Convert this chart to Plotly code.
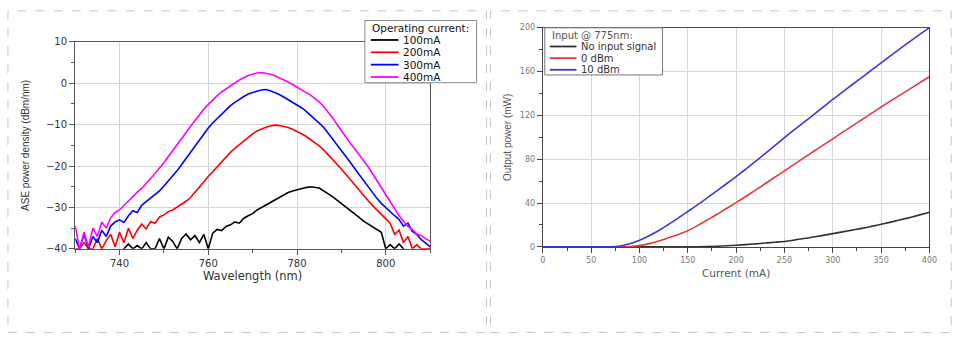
import plotly.graph_objects as go

# ---------------- data: left panel (ASE spectra) ----------------
wavelength = list(range(730, 811))

ase_100mA = [
    -41, -41, -41, -41, -41, -41, -41, -41, -41, -41,
    -41, -40, -38.8, -40, -39.2, -40, -38.5, -40, -40, -37.5,
    -40, -37.2, -38.2, -40, -37.5, -36.4, -37.8, -36.8, -38.5, -36.5,
    -40, -36.2, -35.3, -35.6, -34.6, -34.2, -33.5, -33.8, -32.6, -32.0,
    -31.5, -30.6, -30.0, -29.3, -28.6, -28.0, -27.4, -27.0, -26.4, -26.0,
    -25.7, -25.4, -25.2, -25.0, -25.1, -25.3, -26.0, -26.6, -27.4, -28.2,
    -29.0, -29.9, -30.8, -31.6, -32.4, -33.3, -34.0, -34.6, -35.5, -36.0,
    -40, -39.0, -40, -38.8, -40, -41, -41, -41, -41, -41,
    -41,
]
ase_200mA = [
    -40, -40, -38.5, -40, -40, -37.5, -40, -38, -36.5, -39.5,
    -36, -38.5, -35, -37.5, -35.5, -34.0, -35.2, -33.4, -33.8, -32.3,
    -31.8, -31.0, -30.6, -29.9, -29.3, -28.5, -27.6, -26.4, -25.1, -23.8,
    -22.5, -21.3, -20.2, -19.0, -17.8, -16.7, -15.7, -14.8, -13.9, -13.0,
    -12.2, -11.5, -11.0, -10.6, -10.3, -10.1, -10.2, -10.4, -10.7, -11.1,
    -11.6, -12.2, -12.8, -13.5, -14.3, -15.1, -16.1, -17.2, -18.3, -19.5,
    -20.7, -22.0, -23.3, -24.6, -25.9, -27.1, -28.3, -29.5, -30.6, -31.7,
    -32.6, -33.8, -36.5, -35.5, -38.5, -37.0, -40, -39.0, -40, -40,
    -40,
]
ase_300mA = [
    -37.5, -40, -36.5, -40, -37, -38.5, -35.5, -37, -34.5, -33.5,
    -33.0, -33.6, -32.0, -30.8, -31.2, -29.5, -28.6, -27.7, -26.8, -26.0,
    -24.8, -23.6, -22.3, -21.1, -19.6, -18.1, -16.6, -15.2, -13.7, -12.3,
    -10.8, -9.6, -8.5, -7.4, -6.3, -5.4, -4.6, -3.8, -3.2, -2.6,
    -2.2, -1.9, -1.6, -1.5, -1.8, -2.2, -2.7, -3.3, -3.9, -4.6,
    -5.2, -5.9, -6.7, -7.6, -8.6, -9.6, -10.6, -12.0, -13.3, -14.7,
    -16.1, -17.6, -19.1, -20.6, -22.1, -23.6, -25.1, -26.5, -27.8, -29.0,
    -30.0, -31.2, -32.0, -32.9, -34.5, -33.8, -35.8, -36.5, -37.8, -38.6,
    -39.5,
]
ase_400mA = [
    -34.5, -40, -36, -39.5, -35, -37, -33.5, -35, -32.5, -31.2,
    -30.6, -29.5, -28.6, -27.4, -26.3, -25.4, -24.1, -23.0, -21.8, -20.6,
    -19.2, -17.7, -16.3, -14.8, -13.3, -11.9, -10.4, -9.0, -7.7, -6.3,
    -5.1, -4.0, -3.0, -2.1, -1.3, -0.6, 0.1, 0.8, 1.4, 1.9,
    2.2, 2.5, 2.6, 2.4, 2.2, 1.8, 1.3, 0.9, 0.3, -0.3,
    -1.0, -1.5, -2.2, -2.8, -3.6, -4.5, -5.6, -6.9, -8.3, -9.9,
    -11.5, -13.0, -14.5, -15.8, -17.2, -18.6, -20.1, -21.8, -23.5, -25.2,
    -27.0, -28.8, -30.4, -32.0, -33.3, -34.6, -35.3, -36.4, -36.8, -37.5,
    -38.2,
]
left_names = ["100mA", "200mA", "300mA", "400mA"]
left_colors = ["#000000", "#ff0000", "#0000ff", "#ff00ff"]
left_series = [ase_100mA, ase_200mA, ase_300mA, ase_400mA]
left_legend_title = "Operating current:"

# ---------------- data: right panel (output power) ----------------
current = list(range(0, 401, 10))
power_no_input = [
    0, 0, 0, 0, 0, 0, 0, 0, 0, 0,
    0, 0, 0, 0, 0, 0, 0.1, 0.3, 0.6, 1.0,
    1.5, 2.1, 2.8, 3.5, 4.2, 5.0, 6.2, 7.6, 9.0, 10.5,
    12.1, 13.7, 15.3, 16.9, 18.7, 20.6, 22.6, 24.7, 26.9, 29.2,
    31.6,
]
power_0dBm = [
    0, 0, 0, 0, 0, 0, 0, 0, 0, 0.3,
    1.2, 3.0, 5.4, 8.3, 11.4, 14.8, 19.4, 24.5, 29.6, 35.0,
    40.4, 46.0, 51.8, 57.6, 63.5, 69.4, 75.3, 81.2, 87.0, 92.8,
    98.6, 104.4, 110.2, 116.0, 121.8, 127.6, 133.2, 138.7, 144.2, 149.7,
    155.2,
]
power_10dBm = [
    0, 0, 0, 0, 0, 0, 0, 0.1, 0.8, 2.8,
    6.0, 10.2, 15.0, 20.5, 26.3, 32.3, 38.4, 44.7, 51.1, 57.6,
    64.2, 71.0, 78.0, 85.1, 92.3, 99.6, 106.7, 113.6, 120.5, 127.5,
    134.5, 141.2, 147.9, 154.5, 161.2, 167.9, 174.5, 181.0, 187.5, 193.8,
    200.0,
]
right_names = ["No input signal", "0 dBm", "10 dBm"]
right_colors = ["#333333", "#e23a3f", "#3a3ad2"]
right_series = [power_no_input, power_0dBm, power_10dBm]
right_legend_title = "Input @ 775nm:"

W, H = 975, 351
WIDE = "DejaVu Sans, Verdana, sans-serif"        # horizontal texts (reference is stretched sideways)
NARROW = "Liberation Sans, Arial, sans-serif"     # vertical texts


def fx(p):
    return p / W


def fy(p):
    return 1 - p / H


fig = go.Figure()
for name, color, ys in zip(left_names, left_colors, left_series):
    fig.add_trace(go.Scatter(x=wavelength, y=ys, mode="lines", name=name,
                             line=dict(color=color, width=1.6),
                             xaxis="x", yaxis="y", showlegend=False))
for name, color, ys in zip(right_names, right_colors, right_series):
    fig.add_trace(go.Scatter(x=current, y=ys, mode="lines", name=name,
                             line=dict(color=color, width=1.6, shape="spline"),
                             xaxis="x2", yaxis="y2", showlegend=False))

grid_l = "#d4d4d4"
axis_common = dict(showline=True, mirror=True, ticks="outside", ticklen=5,
                   zeroline=False, showgrid=True)

fig.update_layout(
    width=W, height=H,
    margin=dict(l=0, r=0, t=0, b=0),
    paper_bgcolor="white", plot_bgcolor="white",
    font=dict(family=WIDE, color="#333333"),
    xaxis=dict(domain=[fx(73), fx(432)], range=[730, 810], anchor="y",
               tick0=740, dtick=20, linecolor="#555555", linewidth=1.2,
               tickcolor="#555555", gridcolor=grid_l,
               minor=dict(dtick=10, tick0=730, ticklen=3, ticks="outside",
                          tickcolor="#555555", showgrid=False),
               tickfont=dict(size=10, color="#333333", family=WIDE),
               title=dict(text="Wavelength (nm)", font=dict(size=11.5, color="#333333", family=WIDE), standoff=4),
               **axis_common),
    yaxis=dict(domain=[fy(251), fy(38)], range=[-40, 10], anchor="x",
               tick0=-40, dtick=10, linecolor="#555555", linewidth=1.2,
               tickcolor="#555555", gridcolor=grid_l,
               minor=dict(dtick=5, tick0=-40, ticklen=3, ticks="outside",
                          tickcolor="#555555", showgrid=False),
               tickfont=dict(size=10, color="#333333", family=WIDE),
               title=dict(text="ASE power density (dBm/nm)", font=dict(size=10, color="#333333", family=NARROW), standoff=14),
               **axis_common),
    xaxis2=dict(domain=[fx(546), fx(937)], range=[0, 400], anchor="y2",
                tick0=0, dtick=50, linecolor="#444444", linewidth=1.2,
                tickcolor="#444444", gridcolor="#d8d8d8",
                minor=dict(dtick=25, tick0=0, ticklen=3, ticks="outside",
                           tickcolor="#444444", showgrid=False),
                tickfont=dict(size=8, color="#777777", family=WIDE),
                title=dict(text="Current (mA)", font=dict(size=10.5, color="#555555", family=WIDE), standoff=6),
                **axis_common),
    yaxis2=dict(domain=[fy(249), fy(23.3)], range=[0, 200], anchor="x2",
                tick0=0, dtick=40, linecolor="#444444", linewidth=1.2,
                tickcolor="#444444", gridcolor="#d8d8d8",
                minor=dict(dtick=20, tick0=0, ticklen=3, ticks="outside",
                           tickcolor="#444444", showgrid=False),
                tickfont=dict(size=8, color="#777777", family=WIDE),
                title=dict(text="Output power (mW)", font=dict(size=10, color="#555555", family=NARROW), standoff=6),
                **axis_common),
)

shapes = []
annotations = []

# dashed panel frames
for x0, x1 in [(5, 489), (493, 959)]:
    shapes.append(dict(type="rect", xref="paper", yref="paper",
                       x0=fx(x0), x1=fx(x1), y0=fy(337), y1=fy(6),
                       line=dict(color="#c4c4c4", width=1, dash="dash"),
                       fillcolor="rgba(0,0,0,0)", layer="below"))

# left legend box
shapes.append(dict(type="rect", xref="paper", yref="paper",
                   x0=fx(366), x1=fx(479), y0=fy(80), y1=fy(16),
                   line=dict(color="#888888", width=1), fillcolor="white", layer="above"))
annotations.append(dict(xref="paper", yref="paper", x=fx(371), y=fy(23.5),
                        text=left_legend_title, showarrow=False, xanchor="left", yanchor="middle",
                        font=dict(size=10.5, color="#111111", family=WIDE)))
for i, (name, color) in enumerate(zip(left_names, left_colors)):
    yy = 36 + 12.7 * i
    shapes.append(dict(type="line", xref="paper", yref="paper",
                       x0=fx(372), x1=fx(400), y0=fy(yy), y1=fy(yy),
                       line=dict(color=color, width=1.8), layer="above"))
    annotations.append(dict(xref="paper", yref="paper", x=fx(403), y=fy(yy),
                            text=name, showarrow=False, xanchor="left", yanchor="middle",
                            font=dict(size=10.5, color="#111111", family=WIDE)))

# right legend box
shapes.append(dict(type="rect", xref="paper", yref="paper",
                   x0=fx(548), x1=fx(667), y0=fy(72), y1=fy(23.5),
                   line=dict(color="#777777", width=1), fillcolor="white", layer="above"))
annotations.append(dict(xref="paper", yref="paper", x=fx(553), y=fy(31),
                        text=right_legend_title, showarrow=False, xanchor="left", yanchor="middle",
                        font=dict(size=10, color="#555555", family=WIDE)))
for i, (name, color) in enumerate(zip(right_names, right_colors)):
    yy = 42.7 + 12 * i
    shapes.append(dict(type="line", xref="paper", yref="paper",
                       x0=fx(553), x1=fx(580), y0=fy(yy), y1=fy(yy),
                       line=dict(color=color, width=1.8), layer="above"))
    annotations.append(dict(xref="paper", yref="paper", x=fx(583), y=fy(yy),
                            text=name, showarrow=False, xanchor="left", yanchor="middle",
                            font=dict(size=10, color="#333333", family=WIDE)))

fig.update_layout(shapes=shapes, annotations=annotations)
fig.write_html("out.html")
